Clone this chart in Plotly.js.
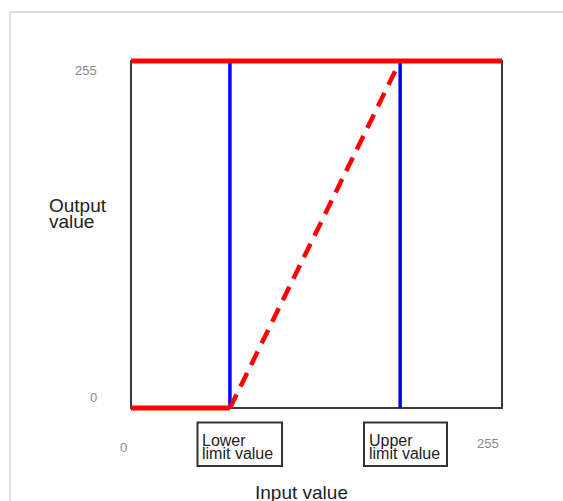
<!DOCTYPE html>
<html>
<head>
<meta charset="utf-8">
<script src="https://cdn.plot.ly/plotly-3.0.1.min.js"></script>
<style>
  html, body { margin: 0; padding: 0; background: #fff; }
  #chart { width: 563px; height: 501px; }
</style>
</head>
<body>
<div id="chart"></div>
<script>
// ---- data ----
const inputRange = [0, 255];
const outputRange = [0, 255];
const lowerLimit = 68;
const upperLimit = 185;
const xTickLabels = ["0", "255"];
const yTickLabels = ["0", "255"];
const boxLabels = [["Lower", "limit value"], ["Upper", "limit value"]];
const axisTitles = { x: "Input value", y: ["Output", "value"] };

// ---- layout helpers ----
const W = 563, H = 501;
const frame = { l: 131, r: 502, t: 61, b: 408 };   // pixel box of the data frame
const PAD = 10;                                      // extra room so thick lines are not clipped
const M = { l: frame.l - PAD, r: W - frame.r - PAD, t: frame.t - PAD, b: H - frame.b - PAD };
const PW = W - M.l - M.r, PH = H - M.t - M.b;
const px = x => (x - M.l) / PW;
const py = y => (H - M.b - y) / PH;
const padX = PAD * (inputRange[1] - inputRange[0]) / (frame.r - frame.l);
const padY = PAD * (outputRange[1] - outputRange[0]) / (frame.b - frame.t);

const red = '#ff0000', blue = '#0000ff';

const traces = [
  { x: [lowerLimit, lowerLimit], y: outputRange, mode: 'lines', line: { color: blue, width: 3.5 } },
  { x: [upperLimit, upperLimit], y: outputRange, mode: 'lines', line: { color: blue, width: 3.5 } },
  { x: [inputRange[0], lowerLimit], y: [outputRange[0], outputRange[0]], mode: 'lines', line: { color: red, width: 5 } },
  { x: [lowerLimit, upperLimit], y: outputRange, mode: 'lines', line: { color: red, width: 4.5, dash: '15px,9px' } },
  { x: inputRange, y: [outputRange[1], outputRange[1]], mode: 'lines', line: { color: red, width: 5 } }
].map(t => Object.assign(t, { cliponaxis: false, hoverinfo: 'skip', showlegend: false }));

const tickFont = { family: 'Liberation Sans, Arial, sans-serif', size: 13, color: '#8a8a8a' };
const boxFont = { family: 'Liberation Sans, Arial, sans-serif', size: 16, color: '#222' };
const titleFont = { family: 'Liberation Sans, Arial, sans-serif', size: 19, color: '#222' };

function ann(text, x, y, font, xanchor) {
  return { text, x: px(x), y: py(y), xref: 'paper', yref: 'paper', showarrow: false,
           font, xanchor: xanchor || 'center', yanchor: 'middle', align: 'left' };
}

const annotations = [
  ann(yTickLabels[1], 85.5, 70.5, tickFont),
  ann(yTickLabels[0], 93, 397, tickFont),
  ann(xTickLabels[0], 123, 447, tickFont),
  ann(xTickLabels[1], 488, 443.5, tickFont),
  ann(boxLabels[0][0], 200, 440, boxFont, 'left'),
  ann(boxLabels[0][1], 200, 453, boxFont, 'left'),
  ann(boxLabels[1][0], 367, 440, boxFont, 'left'),
  ann(boxLabels[1][1], 367, 453, boxFont, 'left'),
  ann(axisTitles.y[0], 47, 205, titleFont, 'left'),
  ann(axisTitles.y[1], 47, 221.5, titleFont, 'left'),
  ann(axisTitles.x, 301.5, 492.5, titleFont)
];

function rect(x0, y0, x1, y1, color, w) {
  return { type: 'rect', xref: 'paper', yref: 'paper', x0: px(x0), x1: px(x1), y0: py(y0), y1: py(y1),
           line: { color, width: w }, fillcolor: 'rgba(0,0,0,0)' };
}
function seg(x0, y0, x1, y1, color, w) {
  return { type: 'line', xref: 'paper', yref: 'paper', x0: px(x0), x1: px(x1), y0: py(y0), y1: py(y1),
           line: { color, width: w } };
}

const shapes = [
  // data frame, drawn beneath the traces
  { type: 'rect', xref: 'x', yref: 'y', x0: inputRange[0], x1: inputRange[1], y0: outputRange[0], y1: outputRange[1],
    line: { color: '#3a3a3a', width: 2 }, fillcolor: 'rgba(0,0,0,0)', layer: 'below' },
  rect(197.5, 422.5, 282, 466, '#333', 2),
  rect(364, 422.5, 447, 466, '#333', 2),
  seg(10, 12, 563, 12, '#dddddd', 2),
  seg(10, 12, 10, 501, '#dddddd', 2)
];

const axisCommon = { showgrid: false, zeroline: false, showticklabels: false, ticks: '',
                     showline: false, fixedrange: true };

const layout = {
  width: W, height: H,
  margin: M,
  paper_bgcolor: '#fff', plot_bgcolor: 'rgba(0,0,0,0)',
  xaxis: Object.assign({ range: [inputRange[0] - padX, inputRange[1] + padX] }, axisCommon),
  yaxis: Object.assign({ range: [outputRange[0] - padY, outputRange[1] + padY] }, axisCommon),
  annotations, shapes, showlegend: false
};

Plotly.newPlot('chart', traces, layout, { displayModeBar: false, staticPlot: true });
</script>
</body>
</html>
